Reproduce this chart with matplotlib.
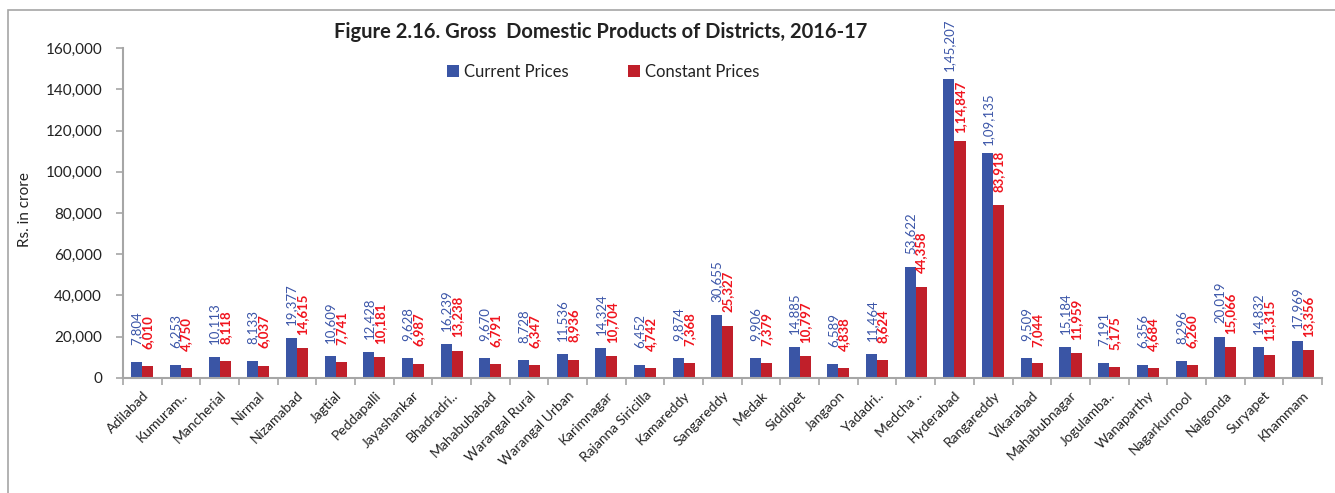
import matplotlib
matplotlib.use("Agg")
import matplotlib.pyplot as plt
from matplotlib.patches import Rectangle
from matplotlib.ticker import FuncFormatter, MultipleLocator
import numpy as np

plt.rcParams['font.family'] = ['Lato', 'DejaVu Sans']

districts = ["Adilabad", "Kumuram..", "Mancherial", "Nirmal", "Nizamabad", "Jagtial",
             "Peddapalli", "Jayashankar", "Bhadradri..", "Mahabubabad", "Warangal Rural",
             "Warangal Urban", "Karimnagar", "Rajanna Siricilla", "Kamareddy", "Sangareddy",
             "Medak", "Siddipet", "Jangaon", "Yadadri..", "Medcha ..", "Hyderabad",
             "Rangareddy", "Vikarabad", "Mahabubnagar", "Jogulamba..", "Wanaparthy",
             "Nagarkurnool", "Nalgonda", "Suryapet", "Khammam"]

current_prices = [7804, 6253, 10113, 8133, 19377, 10609, 12428, 9628, 16239, 9670, 8728,
                  11536, 14324, 6452, 9874, 30655, 9906, 14885, 6589, 11464, 53622, 145207,
                  109135, 9509, 15184, 7191, 6356, 8296, 20019, 14832, 17969]

constant_prices = [6010, 4750, 8118, 6037, 14615, 7741, 10181, 6987, 13238, 6791, 6347,
                   8936, 10704, 4742, 7368, 25327, 7379, 10797, 4838, 8624, 44358, 114847,
                   83918, 7044, 11959, 5175, 4684, 6260, 15066, 11315, 13356]

BLUE = "#3A55A5"
RED = "#C01F2A"
BLUE_TXT = "#3B55A8"
RED_TXT = "#F0141E"
GRAY = "#A6A6A6"


def indian(n):
    s = str(int(n))
    if len(s) <= 3:
        return s
    head, tail = s[:-3], s[-3:]
    parts = []
    while len(head) > 2:
        parts.insert(0, head[-2:])
        head = head[:-2]
    if head:
        parts.insert(0, head)
    return ",".join(parts) + "," + tail


fig = plt.figure(figsize=(13.35, 4.93), dpi=100)
ax = fig.add_axes([0.0921, 0.2333, 0.8981, 0.6693])

x = np.arange(len(districts))
w = 0.285
b1 = ax.bar(x - w / 2, current_prices, w, color=BLUE, label="Current Prices")
b2 = ax.bar(x + w / 2, constant_prices, w, color=RED, label="Constant Prices")

for xi, v in zip(x - w / 2, current_prices):
    ax.annotate(indian(v), (xi, v), xytext=(0, 34), textcoords="offset pixels",
                rotation=90, ha="center", va="center", fontsize=9.5, color=BLUE_TXT)
for xi, v in zip(x + w / 2, constant_prices):
    ax.annotate(indian(v), (xi, v), xytext=(0, 34), textcoords="offset pixels",
                rotation=90, ha="center", va="center", fontsize=9.5, color=RED_TXT,
                fontweight="bold")

ax.set_xlim(-0.5, len(districts) - 0.5)
ax.set_ylim(0, 160000)
ax.yaxis.set_major_locator(MultipleLocator(20000))
ax.yaxis.set_major_formatter(FuncFormatter(lambda v, p: f"{int(v):,}"))

ax.set_xticks(x)
ax.set_xticklabels(districts, rotation=45, ha="right", va="top", rotation_mode="anchor",
                   fontsize=10, color="#222222")
ax.set_xticks(np.arange(-0.5, len(districts)), minor=True)
ax.tick_params(axis="x", which="major", length=0, pad=8)
ax.tick_params(axis="x", which="minor", length=5, color=GRAY, width=1.2)
ax.tick_params(axis="y", length=5, color=GRAY, width=1.2, pad=10, labelsize=11,
               labelcolor="#222222")

for s in ["top", "right"]:
    ax.spines[s].set_visible(False)
for s in ["left", "bottom"]:
    ax.spines[s].set_color(GRAY)
    ax.spines[s].set_linewidth(1.5)

fig.text(25 / 1335, 1 - 210 / 493, "Rs. in crore", rotation=90, ha="center", va="center",
         fontsize=11, color="#222222")

fig.text(601 / 1335, 1 - 32 / 493, "Figure 2.16. Gross  Domestic Products of Districts, 2016-17",
         ha="center", va="center", fontsize=14.5, fontweight="bold", color="#222222")

fig.legend(handles=[b1, b2], loc="center", bbox_to_anchor=(603 / 1335, 1 - 72 / 493),
           ncol=2, frameon=False, fontsize=12, handlelength=0.7, handleheight=0.7,
           handletextpad=0.3, columnspacing=3.6, labelcolor="#222222")

fig.patches.append(Rectangle((8 / 1335, -0.1), 1.2, 1 - 10 / 493 + 0.1,
                             transform=fig.transFigure, fill=False, edgecolor=GRAY, lw=1.2))

fig.savefig("out.png", dpi=100)
